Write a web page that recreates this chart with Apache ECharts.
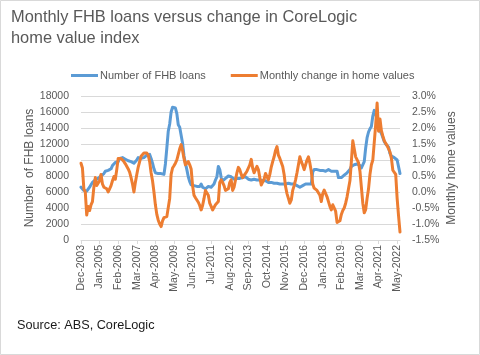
<!DOCTYPE html>
<html>
<head>
<meta charset="utf-8">
<script src="https://cdn.jsdelivr.net/npm/echarts@6/dist/echarts.min.js"></script>
<style>
html,body{margin:0;padding:0;background:#fff;}
#c{width:480px;height:355px;}
</style>
</head>
<body>
<div id="c"></div>
<script>
// Month labels Dec-2003 .. Jul-2022
const monthNames = ['Jan','Feb','Mar','Apr','May','Jun','Jul','Aug','Sep','Oct','Nov','Dec'];
const startYear = 2003, startMonth = 11, monthCount = 224;
const categories = [];
for (let i = 0; i < monthCount; i++) {
  const m = (startMonth + i) % 12;
  const y = startYear + Math.floor((startMonth + i) / 12);
  categories.push(monthNames[m] + '-' + y);
}

const seriesNames = ['Number of FHB loans', 'Monthly change in home values'];

// Number of FHB loans (monthly)
const fhbLoans = [
6600,6400,6200,6000,6100,6300,6600,6900,7200,7300,7500,7400,
7700,7900,8000,8100,8300,8600,8500,8700,8700,8900,9300,9500,
9700,9800,9800,10200,10400,10300,10100,10100,10000,9900,9900,9800,
9700,9600,9700,10000,10300,10200,10200,10400,10300,10500,10600,10400,
10700,10200,9600,8900,8400,8200,8300,8400,8300,8300,8200,9500,
11500,13600,14500,16000,16600,16700,16500,15800,14400,14100,14000,12100,
10500,9600,8800,7900,7300,6900,6800,6800,6700,6700,6600,6700,
7000,6600,6500,6400,6600,6700,6800,6600,6700,7000,7500,7900,
9200,8800,7800,7400,7500,7700,7800,8000,8000,7900,7700,7600,
7500,7700,7600,7700,7900,7800,7700,7900,7700,7600,7700,7500,
7500,7600,7400,7500,7600,7500,7600,7400,7300,7400,7300,7200,
7300,7200,7200,7100,7000,7100,7000,7000,6900,7000,7100,7000,
7000,7100,7000,7000,7100,7000,6900,6800,6700,6600,6700,6800,
6900,7000,6900,7000,7100,7000,8500,8800,8900,8800,8800,8700,
8800,8700,8700,8600,8700,8800,8700,8600,8500,8600,8500,8600,
7800,7700,7800,7900,8100,8200,8400,8600,8800,9200,9300,9400,
9300,9500,9400,9300,9000,9000,9800,11500,12800,13500,13900,14200,
15500,16200,16300,15200,14200,13700,13300,12800,12300,12000,11800,11600,
10800,10500,10400,10300,10100,10000,9800,8300
];

// Monthly change in CoreLogic home value index (%)
const homeValueChange = [
0.90,0.75,0.10,0.00,-0.72,-0.45,-0.58,-0.40,-0.30,0.15,0.45,0.20,
0.15,0.35,0.55,0.25,0.15,0.20,0.10,0.00,0.10,0.20,0.35,0.48,
0.40,0.70,1.05,1.10,1.05,1.00,0.95,0.88,0.82,0.72,0.62,0.45,
0.25,0.00,0.30,0.55,0.78,0.95,1.12,1.18,1.22,1.23,1.22,1.15,
0.95,0.60,0.35,0.00,-0.40,-0.70,-0.88,-1.00,-1.08,-0.90,-0.80,-0.78,
-0.77,-0.79,-0.20,0.55,0.75,0.82,0.90,1.00,1.05,1.35,1.48,1.30,
1.05,0.85,0.85,0.95,0.85,0.72,0.20,-0.10,-0.18,-0.25,-0.32,-0.42,
-0.56,-0.42,-0.20,0.05,0.02,-0.10,-0.35,-0.45,-0.56,-0.50,-0.40,-0.45,
-0.30,0.30,0.38,0.30,0.20,0.05,0.01,0.10,0.30,0.38,0.05,0.15,
0.10,0.60,0.77,0.70,0.55,0.45,0.50,0.58,0.65,0.75,0.85,1.02,
0.75,0.60,0.70,0.80,0.70,0.45,0.22,0.25,0.40,0.58,0.62,0.38,
0.55,0.78,0.95,1.10,1.30,1.42,1.15,1.05,1.00,0.80,0.55,0.17,
-0.05,-0.20,-0.35,-0.25,0.05,0.20,0.38,0.60,0.85,1.10,0.95,0.84,
0.70,0.64,1.00,1.10,0.90,0.64,0.25,0.12,0.08,0.05,0.01,-0.10,
-0.30,-0.05,0.06,0.00,-0.15,-0.30,-0.45,-0.56,-0.40,-0.46,-0.60,-0.95,
-0.98,-0.90,-0.70,-0.58,-0.50,-0.35,-0.15,0.10,0.35,0.95,1.60,1.35,
1.10,1.05,0.92,0.65,0.15,-0.35,-0.65,-0.55,-0.20,0.10,0.55,0.85,
1.00,0.95,2.10,2.78,1.90,2.28,1.92,1.75,1.60,1.52,1.45,1.40,
1.25,1.05,0.68,0.62,0.55,-0.20,-0.75,-1.25
];

const leftAxis = {min: 0, max: 18000, interval: 2000};
const rightAxis = {min: -1.5, max: 3.0, interval: 0.5};

const grey = '#595959';
const font = '"Liberation Sans", Arial, sans-serif';

const chart = echarts.init(document.getElementById('c'), null, {renderer: 'canvas'});
chart.setOption({
  animation: false,
  backgroundColor: '#fff',
  textStyle: {fontFamily: font},
  title: {
    text: 'Monthly FHB loans versus change in CoreLogic\nhome value index',
    left: 6, top: 2,
    textStyle: {fontFamily: font, fontSize: 16.4, fontWeight: 'normal', color: grey, lineHeight: 21}
  },
  legend: {
    data: seriesNames,
    left: 71, top: 70, padding: 0,
    icon: 'rect', itemWidth: 27, itemHeight: 3, itemGap: 25,
    textStyle: {fontFamily: font, fontSize: 11, color: grey, padding: [0, 0, 0, -3]}
  },
  grid: {left: 81, right: 80, top: 96, bottom: 115, containLabel: false},
  xAxis: {
    type: 'category',
    data: categories,
    boundaryGap: false,
    axisLine: {lineStyle: {color: '#d9d9d9', width: 1}},
    axisTick: {show: true, interval: 12, length: 4, lineStyle: {color: '#d9d9d9'}},
    axisLabel: {interval: 12, rotate: 90, fontFamily: font, fontSize: 10.5, color: grey, margin: 5}
  },
  yAxis: [
    {
      type: 'value',
      min: leftAxis.min, max: leftAxis.max, interval: leftAxis.interval,
      name: 'Number  of FHB loans',
      nameLocation: 'middle', nameRotate: 90, nameGap: 45, nameMoveOverlap: false,
      nameTextStyle: {fontFamily: font, fontSize: 12, color: grey},
      axisLine: {show: false}, axisTick: {show: false},
      axisLabel: {fontFamily: font, fontSize: 10.5, color: grey, margin: 12,
        formatter: v => String(v)},
      splitLine: {lineStyle: {color: '#d9d9d9', width: 1}}
    },
    {
      type: 'value',
      min: rightAxis.min, max: rightAxis.max, interval: rightAxis.interval,
      name: 'Monthly home values',
      nameLocation: 'middle', nameRotate: 90, nameGap: 46, nameMoveOverlap: false,
      nameTextStyle: {fontFamily: font, fontSize: 12, color: grey},
      axisLine: {show: false}, axisTick: {show: false},
      axisLabel: {fontFamily: font, fontSize: 10.5, color: grey, margin: 12,
        formatter: v => v.toFixed(1) + '%'},
      splitLine: {show: false}
    }
  ],
  series: [
    {
      name: seriesNames[0], type: 'line', yAxisIndex: 0, data: fhbLoans,
      showSymbol: false, symbol: 'none',
      lineStyle: {color: '#5B9BD5', width: 3, cap: 'round', join: 'round'},
      itemStyle: {color: '#5B9BD5'}
    },
    {
      name: seriesNames[1], type: 'line', yAxisIndex: 1, data: homeValueChange,
      showSymbol: false, symbol: 'none',
      lineStyle: {color: '#ED7D31', width: 3, cap: 'round', join: 'round'},
      itemStyle: {color: '#ED7D31'}
    }
  ],
  graphic: [
    {type: 'rect', shape: {x: 0.5, y: 0.5, width: 479, height: 354},
     style: {fill: 'none', stroke: '#d9d9d9', lineWidth: 1}, silent: true, z: -1},
    {type: 'text', left: 17, top: 319,
     style: {text: 'Source: ABS, CoreLogic', font: '12.7px "Liberation Sans", Arial, sans-serif', fill: '#1a1a1a'}}
  ]
});
</script>
</body>
</html>
